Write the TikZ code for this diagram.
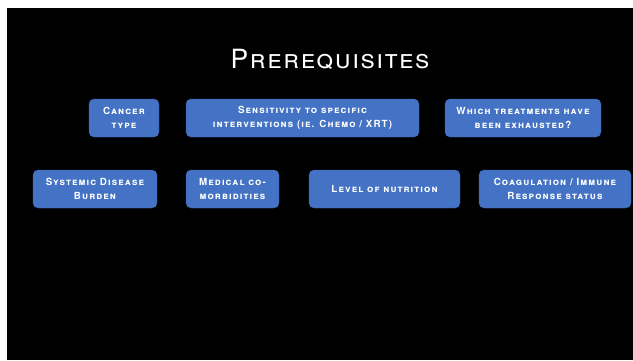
\documentclass[tikz,border=0pt]{standalone}
\usepackage{fontspec}
\newfontfamily\slidefont{TeX Gyre Heros}[LetterSpace=11]
\newfontfamily\titlefont{TeX Gyre Heros}[LetterSpace=6]
\definecolor{boxblue}{HTML}{4472C4}
\definecolor{boxedge}{HTML}{3A62AA}

\begin{document}
\begin{tikzpicture}[x=1pt,y=-1pt,
  prereq/.style={draw=boxedge,fill=boxblue,rounded corners=5pt,text=white,
    align=center,inner sep=0pt,minimum height=38pt,
    font=\slidefont\scshape\bfseries\fontsize{9.8}{14}\selectfont}]
  \fill[white] (0,0) rectangle (633,360);
  \fill[black] (7,8) rectangle (633,360);
  \node[text=white,font=\titlefont\scshape\fontsize{26.5}{28}\selectfont] (title) at (330,59) {Prerequisites};
  \node[prereq,minimum width=70pt]  (cancer) at (124,118)   {Cancer\\type};
  \node[prereq,minimum width=233pt] (sens)   at (302.5,118) {Sensitivity to specific\\interventions (ie. Chemo / XRT)};
  \node[prereq,minimum width=156pt] (which)  at (523,118)   {Which treatments have\\been exhausted?};
  \node[prereq,minimum width=124pt] (burden) at (95,189)    {Systemic Disease\\Burden};
  \node[prereq,minimum width=93pt]  (comorb) at (232.5,189) {Medical co-\\morbidities};
  \node[prereq,minimum width=151pt] (nutr)   at (384.5,189) {Level of nutrition};
  \node[prereq,minimum width=152pt] (coag)   at (555,189)   {Coagulation / Immune\\Response status};
\end{tikzpicture}
\end{document}
